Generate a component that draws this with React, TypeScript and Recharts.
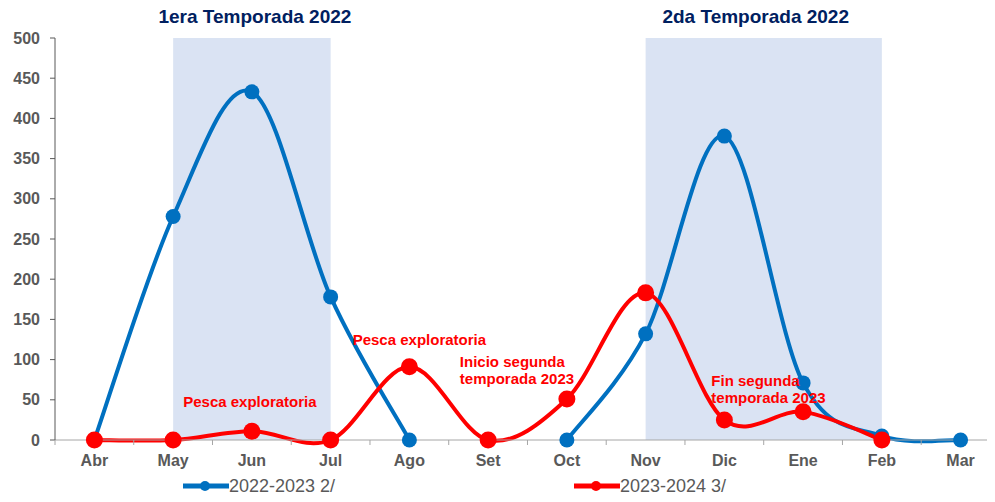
import React from 'react';
import {
  ComposedChart,
  Line,
  XAxis,
  YAxis,
  ReferenceArea,
  Legend,
  LabelList,
} from 'recharts';

const months = ['Abr', 'May', 'Jun', 'Jul', 'Ago', 'Set', 'Oct', 'Nov', 'Dic', 'Ene', 'Feb', 'Mar'];
const serie2022 = [0, 278, 433, 178, 0, null, 0, 132, 378, 71, 5, 0];
const serie2023 = [0, 0, 11, 0, 91, 0, 51, 183, 25, 35, 0, null];
const notes2023 = [
  '',
  '',
  'Pesca exploratoria',
  '',
  'Pesca exploratoria',
  '',
  'Inicio segunda|temporada 2023',
  '',
  'Fin segunda|temporada 2023',
  '',
  '',
  '',
];
const yTicks = [0, 50, 100, 150, 200, 250, 300, 350, 400, 450, 500];
const seasons = [
  { from: 'May', to: 'Jul', title: '1era Temporada 2022' },
  { from: 'Nov', to: 'Feb', title: '2da Temporada 2022' },
];

const data = months.map((m, i) => ({
  mes: m,
  s2022: serie2022[i],
  s2023: serie2023[i],
  nota: notes2023[i],
}));

const FONT = '"Liberation Sans", Arial, sans-serif';
const BLUE = '#0070c0';
const RED = '#ff0000';
const HALF_STEP = 39.4;

// excel-like smoothing (catmull-rom as bezier, 1/6 control points)
function excelCurve(context: any) {
  let pts: number[][] = [];
  return {
    areaStart() {},
    areaEnd() {},
    lineStart() {
      pts = [];
    },
    lineEnd() {
      if (!pts.length) return;
      context.moveTo(pts[0][0], pts[0][1]);
      for (let i = 0; i < pts.length - 1; i++) {
        const p0 = pts[i - 1] || pts[i];
        const p1 = pts[i];
        const p2 = pts[i + 1];
        const p3 = pts[i + 2] || pts[i + 1];
        context.bezierCurveTo(
          p1[0] + (p2[0] - p0[0]) / 6,
          p1[1] + (p2[1] - p0[1]) / 6,
          p2[0] - (p3[0] - p1[0]) / 6,
          p2[1] - (p3[1] - p1[1]) / 6,
          p2[0],
          p2[1]
        );
      }
    },
    point(x: number, y: number) {
      pts.push([+x, +y]);
    },
  };
}

const notePlace: Record<string, { dx: number; dy: number; anchor: string }> = {
  Jun: { dx: -2, dy: -29, anchor: 'middle' },
  Ago: { dx: 10, dy: -27, anchor: 'middle' },
  Oct: { dx: -107, dy: -37, anchor: 'start' },
  Dic: { dx: -13, dy: -39, anchor: 'start' },
};

const titleShift = [3, -8];

function NoteLabel(props: any) {
  const { x, y, value, index } = props;
  if (!value) return null;
  const p = notePlace[months[index]];
  if (!p) return null;
  const lines = String(value).split('|');
  return (
    <text
      x={x + p.dx}
      y={y + p.dy + 5}
      textAnchor={p.anchor}
      fill={RED}
      fontFamily={FONT}
      fontWeight="bold"
      fontSize={15}
    >
      {lines.map((l, i) => (
        <tspan key={i} x={x + p.dx} dy={i === 0 ? 0 : 17.5}>
          {l}
        </tspan>
      ))}
    </text>
  );
}

function SeasonTitle(props: any) {
  const { viewBox, title, shift } = props;
  if (!viewBox) return null;
  return (
    <text
      x={viewBox.x + viewBox.width / 2 + (shift || 0)}
      y={viewBox.y - 15}
      textAnchor="middle"
      fill="#002060"
      fontFamily={FONT}
      fontWeight="bold"
      fontSize={19}
    >
      {title}
    </text>
  );
}

function MonthTick(props: any) {
  const { x, y, payload } = props;
  const axisY = y - 15;
  return (
    <g>
      <line x1={x - HALF_STEP} x2={x - HALF_STEP} y1={axisY} y2={axisY + 5} stroke="#a6a6a6" />
      <text
        x={x}
        y={y}
        dy="0.71em"
        textAnchor="middle"
        fill="#595959"
        fontFamily={FONT}
        fontWeight="bold"
        fontSize={16}
      >
        {payload.value}
      </text>
    </g>
  );
}

function LegendBox(props: any) {
  const items = props.payload || [];
  const lefts = [183, 574];
  return (
    <div style={{ position: 'relative', width: 1000, height: 20 }}>
      {items.map((it: any, i: number) => (
        <div
          key={i}
          style={{
            position: 'absolute',
            left: lefts[i],
            top: 0,
            height: 20,
            display: 'flex',
            alignItems: 'center',
          }}
        >
          <svg width={46} height={14}>
            <line x1={0} x2={46} y1={7} y2={7} stroke={it.color} strokeWidth={5} strokeLinecap="round" />
            <circle cx={22} cy={7} r={5} fill={it.color} />
          </svg>
          <span style={{ fontFamily: FONT, fontSize: 18, color: '#595959', lineHeight: '20px' }}>
            {it.value}
          </span>
        </div>
      ))}
    </div>
  );
}

export default function App() {
  return (
    <div style={{ margin: -8, width: 995, height: 502, overflow: 'hidden', background: '#fff' }}>
      <ComposedChart
        width={1000}
        height={502}
        data={data}
        margin={{ top: 38, right: 0, bottom: 2, left: 0 }}
      >
        <XAxis
          dataKey="mes"
          scale="point"
          padding={{ left: HALF_STEP, right: HALF_STEP }}
          height={40}
          stroke="#a6a6a6"
          tickLine={false}
          tickSize={5}
          tickMargin={10}
          tick={<MonthTick />}
          interval={0}
        />
        <YAxis
          width={55}
          domain={[0, 500]}
          ticks={yTicks}
          interval={0}
          stroke="#595959"
          tickSize={5}
          tickMargin={10}
          tick={{ fill: '#595959', fontFamily: FONT, fontWeight: 'bold', fontSize: 16 }}
        />
        {seasons.map((s, i) => (
          <ReferenceArea
            key={s.title}
            x1={s.from}
            x2={s.to}
            y1={0}
            y2={500}
            fill="#dae3f3"
            fillOpacity={1}
            stroke="none"
            label={<SeasonTitle title={s.title} shift={titleShift[i]} />}
          />
        ))}
        <Legend
          verticalAlign="bottom"
          content={<LegendBox />}
          wrapperStyle={{ top: 476, bottom: 'auto', left: 0, width: 1000, height: 20 }}
        />
        <Line
          name="2022-2023 2/"
          dataKey="s2022"
          type={excelCurve as any}
          stroke={BLUE}
          strokeWidth={4}
          dot={{ r: 7.5, fill: BLUE, stroke: BLUE, strokeWidth: 0 }}
          activeDot={false}
          isAnimationActive={false}
        />
        <Line
          name="2023-2024 3/"
          dataKey="s2023"
          type={excelCurve as any}
          stroke={RED}
          strokeWidth={4}
          dot={{ r: 8.5, fill: RED, stroke: RED, strokeWidth: 0 }}
          activeDot={false}
          isAnimationActive={false}
        >
          <LabelList dataKey="nota" content={<NoteLabel />} />
        </Line>
      </ComposedChart>
    </div>
  );
}
